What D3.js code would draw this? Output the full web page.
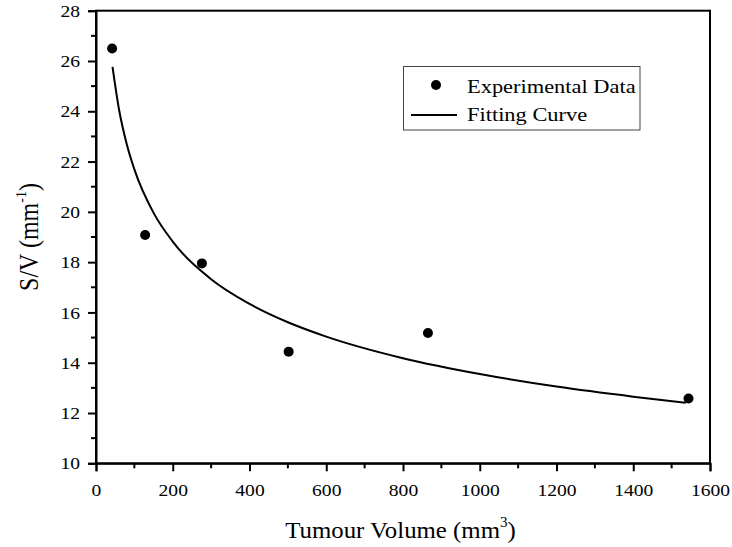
<!DOCTYPE html>
<html><head><meta charset="utf-8">
<script src="https://cdn.jsdelivr.net/npm/d3@7"></script>
<style>body{margin:0;background:#fff}svg{display:block}svg text{font-family:'Times New Roman','Liberation Serif',Tinos,serif !important;fill:#000}</style>
</head><body><svg id="c" width="732" height="547"></svg>
<script>
// Experimental data
const volumes = [42, 128, 276, 502, 865, 1544];
const svRatios = [26.5, 19.08, 17.95, 14.44, 15.18, 12.58];
// Fitting curve samples
const curveX = [43, 60, 80, 100, 150, 200, 300, 400, 500, 600, 800, 1000, 1200, 1400, 1537];
const curveY = [25.77, 24.07, 22.70, 21.69, 19.96, 18.82, 17.32, 16.34, 15.61, 15.04, 14.18, 13.55, 13.05, 12.65, 12.41];
const xTicks = [0, 200, 400, 600, 800, 1000, 1200, 1400, 1600];
const yTicks = [10, 12, 14, 16, 18, 20, 22, 24, 26, 28];
const legendLabels = ["Experimental Data", "Fitting Curve"];

const FONT = "'Times New Roman','Liberation Serif',Tinos,serif";
const SX = 1.12; // horizontal stretch of the lettering in the reference
const svg = d3.select("#c");
const L = 96, R = 710, T = 10.7, B = 463.3;
const x = d3.scaleLinear().domain([0, 1600]).range([L, R]);
const y = d3.scaleLinear().domain([10, 28]).range([B, T]);

// frame
svg.append("rect").attr("x", L).attr("y", T).attr("width", R - L).attr("height", B - T)
  .attr("fill", "none").attr("stroke", "#000").attr("stroke-width", 2);

// x axis
const xMinor = d3.range(100, 1600, 200);
const gx = svg.append("g").attr("transform", `translate(0,${B})`);
gx.call(d3.axisBottom(x).tickValues(xTicks).tickSize(8).tickPadding(12).tickFormat(d3.format("d")));
gx.append("g").selectAll("line").data(xMinor).join("line")
  .attr("x1", d => x(d)).attr("x2", d => x(d)).attr("y1", 0).attr("y2", 5)
  .attr("stroke", "#000").attr("stroke-width", 2);
gx.selectAll(".tick text").attr("transform", `scale(${SX},1)`);
// y axis
const yMinor = d3.range(11, 28, 2);
const gy = svg.append("g").attr("transform", `translate(${L},0)`);
gy.call(d3.axisLeft(y).tickValues(yTicks).tickSize(8).tickPadding(8).tickFormat(d3.format("d")));
gy.append("g").selectAll("line").data(yMinor).join("line")
  .attr("y1", d => y(d)).attr("y2", d => y(d)).attr("x1", 0).attr("x2", -5)
  .attr("stroke", "#000").attr("stroke-width", 2);
gy.selectAll(".tick text").attr("x", -16 / SX).attr("transform", `scale(${SX},1)`);
[gx, gy].forEach(g => {
  g.attr("font-family", FONT).attr("font-size", 17.5);
  g.select(".domain").attr("stroke-width", 2);
  g.selectAll(".tick line").attr("stroke-width", 2);
  g.selectAll(".tick text").attr("font-size", 17.5).attr("font-family", FONT);
});

// curve
const pts = curveX.map((v, i) => [v, curveY[i]]);
svg.append("path").datum(pts)
  .attr("d", d3.line().x(d => x(d[0])).y(d => y(d[1])).curve(d3.curveMonotoneX))
  .attr("fill", "none").attr("stroke", "#000").attr("stroke-width", 2);

// points
svg.append("g").selectAll("circle").data(volumes).join("circle")
  .attr("cx", d => x(d)).attr("cy", (d, i) => y(svRatios[i])).attr("r", 5).attr("fill", "#000");

// legend
const lg = svg.append("g").attr("font-family", FONT);
lg.append("rect").attr("x", 403.5).attr("y", 66.5).attr("width", 236.5).attr("height", 63.5)
  .attr("fill", "#fff").attr("stroke", "#444").attr("stroke-width", 1);
lg.append("circle").attr("cx", 436).attr("cy", 85).attr("r", 5).attr("fill", "#000");
lg.append("line").attr("x1", 411).attr("x2", 457).attr("y1", 115).attr("y2", 115).attr("stroke", "#000").attr("stroke-width", 2);
lg.selectAll("text").data(legendLabels).join("text")
  .attr("transform", (d, i) => `translate(467,${92.5 + i * 28}) scale(1.15,1)`)
  .attr("font-size", 19.5).text(d => d);

// axis titles
const xt = svg.append("text").attr("transform", `translate(400.5,538) scale(1.08,1)`).attr("text-anchor", "middle")
  .attr("font-family", FONT).attr("font-size", 23);
xt.append("tspan").text("Tumour Volume (mm");
xt.append("tspan").attr("font-size", 14).attr("dy", -11).text("3");
xt.append("tspan").attr("dy", 11).text(")");

const yt = svg.append("text").attr("transform", `translate(38,${(T + B) / 2}) rotate(-90) scale(1,1.1)`)
  .attr("text-anchor", "middle").attr("font-family", FONT).attr("font-size", 24);
yt.append("tspan").text("S/V (mm");
yt.append("tspan").attr("font-size", 14).attr("dy", -11).text("-1");
yt.append("tspan").attr("dy", 11).text(")");
</script></body></html>
